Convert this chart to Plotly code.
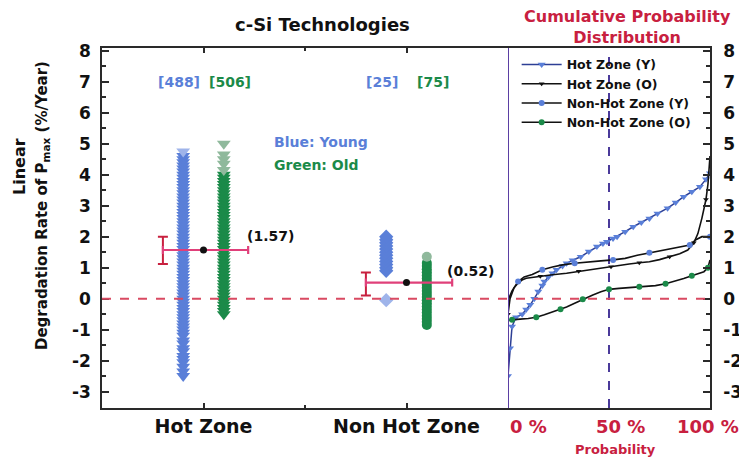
import plotly.graph_objects as go

# ---------------- data ----------------
categories = ["Hot Zone", "Non Hot Zone"]
cat_pos = [1, 3]
counts_young = [488, 25]
counts_old = [506, 75]
mean_rates = [1.57, 0.52]
err_low = [1.12, 0.10]
err_high = [2.00, 0.84]

# strip values (%/year)
hz_young = [-2.5, -2.35, -2.2, -2.05, -1.95, -1.85, -1.7, -1.6, -1.45, -1.35, -1.2, -1.1,
            -1.0, -0.9, -0.8, -0.7, -0.6, -0.5, -0.4, -0.3, -0.2, -0.1, 0.0, 0.1, 0.2,
            0.3, 0.4, 0.5, 0.6, 0.7, 0.8, 0.9, 1.0, 1.1, 1.2, 1.3, 1.4, 1.5, 1.6, 1.7,
            1.8, 1.9, 2.0, 2.1, 2.2, 2.3, 2.4, 2.5, 2.6, 2.7, 2.8, 2.9, 3.0, 3.1, 3.2,
            3.3, 3.4, 3.5, 3.6, 3.7, 3.8, 3.9, 4.0, 4.1, 4.2, 4.3, 4.4, 4.5, 4.6, 4.75]
hz_old = [-0.5, -0.4, -0.3, -0.2, -0.1, 0.0, 0.1, 0.2, 0.3, 0.4, 0.5, 0.6, 0.7, 0.8,
          0.9, 1.0, 1.1, 1.2, 1.3, 1.4, 1.5, 1.6, 1.7, 1.8, 1.9, 2.0, 2.1, 2.2, 2.3, 2.4,
          2.5, 2.6, 2.7, 2.8, 2.9, 3.0, 3.1, 3.2, 3.3, 3.4, 3.5, 3.6, 3.7, 3.8, 3.9, 4.0,
          4.15, 4.35, 4.5, 4.65, 5.0]
nhz_young = [-0.05, 0.9, 1.0, 1.1, 1.2, 1.3, 1.4, 1.5, 1.6, 1.7, 1.8, 1.9, 2.0]
nhz_old = [-0.85, -0.75, -0.65, -0.55, -0.45, -0.35, -0.25, -0.15, -0.05, 0.05, 0.15,
           0.25, 0.35, 0.45, 0.55, 0.65, 0.75, 0.85, 0.95, 1.05, 1.15, 1.35]

# cumulative probability curves (probability %, rate %/year)
prob_hz_y = [0, 1, 2, 4, 7, 9, 11, 13, 15, 17, 18, 20, 22, 24, 27, 29, 32, 36, 40, 44,
             47, 49, 52, 54, 58, 62, 66, 70, 74, 79, 83, 87, 91, 95, 98, 100]
rate_hz_y = [-2.5, -1.6, -0.9, -0.6, -0.5, -0.35, -0.2, 0.0, 0.23, 0.42, 0.55, 0.7, 0.82,
             0.93, 1.05, 1.14, 1.24, 1.35, 1.52, 1.68, 1.78, 1.84, 1.94, 2.0, 2.16, 2.32,
             2.46, 2.59, 2.75, 2.92, 3.1, 3.29, 3.45, 3.61, 3.85, 4.05]
prob_hz_o = [0, 1, 3, 6, 9, 13, 16, 22, 29, 35, 41, 46, 51, 55, 60, 65, 70, 75, 80, 85,
             89, 92, 94, 96, 98, 99, 100]
rate_hz_o = [-0.5, 0.0, 0.35, 0.58, 0.66, 0.7, 0.72, 0.77, 0.82, 0.88, 0.93, 1.0, 1.03,
             1.07, 1.12, 1.16, 1.19, 1.26, 1.35, 1.45, 1.57, 1.8, 2.1, 2.6, 3.2, 3.7, 4.6]
prob_nhz_y = [0, 2, 5, 8, 12, 17, 22, 27, 33, 40, 46, 52, 58, 64, 70, 77, 84, 90, 93, 96, 100]
rate_nhz_y = [-0.05, 0.25, 0.55, 0.7, 0.78, 0.93, 1.02, 1.09, 1.14, 1.19, 1.22, 1.25, 1.3,
              1.4, 1.48, 1.57, 1.65, 1.73, 1.9, 2.0, 2.0]
prob_nhz_o = [0, 2, 6, 10, 14, 18, 22, 26, 29, 33, 37, 42, 46, 50, 55, 60, 65, 69, 73,
              78, 83, 87, 91, 95, 97, 99, 100]
rate_nhz_o = [-0.7, -0.68, -0.66, -0.64, -0.6, -0.52, -0.43, -0.34, -0.27, -0.15, -0.02,
              0.12, 0.22, 0.3, 0.33, 0.36, 0.38, 0.39, 0.42, 0.48, 0.57, 0.65, 0.74, 0.83,
              0.87, 1.0, 1.25]

y_ticks = [-3, -2, -1, 0, 1, 2, 3, 4, 5, 6, 7, 8]
y_tick_labels = ["-3", "-2", "-1", "0", "1", "2", "3", "4", "5", "6", "7", "8"]
prob_ticks = [0, 50, 100]
prob_labels = ["0 %", "50 %", "100 %"]

# ---------------- style ----------------
FONT = "DejaVu Sans, Liberation Sans, Arial"
BLUE = "#5a7fd8"
BLUE_LIGHT = "#9fb4ea"
GREEN = "#1b8a49"
GREEN_LIGHT = "#8fb99c"
CRIMSON = "#c8203f"
PINK = "#e0407a"
RED_DASH = "#d94a62"
PURPLE = "#5b3fa3"
AXIS = "#2a2a2a"
YR = [-3.53, 8.09]

fig = go.Figure()

# strips
fig.add_trace(go.Scatter(
    x=[cat_pos[0] - 0.2] * len(hz_young), y=hz_young, mode="markers", showlegend=False,
    marker=dict(symbol="triangle-down", size=12,
                color=[BLUE_LIGHT if v > 4.6 else BLUE for v in hz_young]),
    xaxis="x", yaxis="y"))
fig.add_trace(go.Scatter(
    x=[cat_pos[0] + 0.2] * len(hz_old), y=hz_old, mode="markers", showlegend=False,
    marker=dict(symbol="triangle-down", size=12,
                color=[GREEN_LIGHT if v > 4.1 else GREEN for v in hz_old]),
    xaxis="x", yaxis="y"))
fig.add_trace(go.Scatter(
    x=[cat_pos[1] - 0.2] * len(nhz_young), y=nhz_young, mode="markers", showlegend=False,
    marker=dict(symbol="diamond", size=11,
                color=[BLUE_LIGHT if v < 0.5 else BLUE for v in nhz_young]),
    xaxis="x", yaxis="y"))
fig.add_trace(go.Scatter(
    x=[cat_pos[1] + 0.2] * len(nhz_old), y=nhz_old, mode="markers", showlegend=False,
    marker=dict(symbol="circle", size=10,
                color=[GREEN_LIGHT if v > 1.3 else GREEN for v in nhz_old]),
    xaxis="x", yaxis="y"))

# vertical error bars (left of each group)
fig.add_trace(go.Scatter(
    x=[p - 0.4 for p in cat_pos], y=mean_rates, mode="markers", showlegend=False,
    marker=dict(size=1, color=CRIMSON, opacity=0),
    error_y=dict(type="data", symmetric=False,
                 array=[h - m for h, m in zip(err_high, mean_rates)],
                 arrayminus=[m - l for m, l in zip(mean_rates, err_low)],
                 color=CRIMSON, thickness=2, width=5),
    xaxis="x", yaxis="y"))
# horizontal bar through the mean + mean dot
fig.add_trace(go.Scatter(
    x=cat_pos, y=mean_rates, mode="markers", showlegend=False,
    marker=dict(size=7, color="#111111"),
    error_x=dict(type="data", symmetric=False, array=[0.44, 0.45], arrayminus=[0.4, 0.4],
                 color=PINK, thickness=2.2, width=4),
    xaxis="x", yaxis="y"))

# cumulative curves
fig.add_trace(go.Scatter(
    x=prob_hz_y, y=rate_hz_y, mode="lines+markers", name="Hot Zone (Y)",
    line=dict(color="#2d3f95", width=1.5),
    marker=dict(symbol="triangle-down", size=7, color=BLUE),
    xaxis="x2", yaxis="y2"))
fig.add_trace(go.Scatter(
    x=prob_hz_o, y=rate_hz_o, mode="lines+markers", name="Hot Zone (O)",
    line=dict(color="#111111", width=1.6),
    marker=dict(symbol="triangle-down", size=5, color="#111111", maxdisplayed=12),
    xaxis="x2", yaxis="y2"))
fig.add_trace(go.Scatter(
    x=prob_nhz_y, y=rate_nhz_y, mode="lines+markers", name="Non-Hot Zone (Y)",
    line=dict(color="#111111", width=1.6),
    marker=dict(symbol="circle", size=6, color=BLUE, maxdisplayed=9),
    xaxis="x2", yaxis="y2"))
fig.add_trace(go.Scatter(
    x=prob_nhz_o, y=rate_nhz_o, mode="lines+markers", name="Non-Hot Zone (O)",
    line=dict(color="#111111", width=1.6),
    marker=dict(symbol="circle", size=6, color=GREEN, maxdisplayed=9),
    xaxis="x2", yaxis="y2"))

# page body has an 8px margin; the figure is sized so the plot area lands at
# x 102..710, y 48..408 of the 747x459 window
split = (508 - 102) / 608

tickfont = dict(family=FONT, size=17, color="#111111", weight="bold")
fig.update_layout(
    width=739, height=451,
    margin=dict(l=94, r=37, t=40, b=51, autoexpand=False),
    paper_bgcolor="white", plot_bgcolor="white",
    font=dict(family=FONT, color="#111111"),
    xaxis=dict(domain=[0, split], range=[0, 4], tickvals=cat_pos, ticktext=categories,
               ticks="inside", ticklen=5, tickwidth=1.5, tickcolor=AXIS,
               minor=dict(tickvals=[2], ticks="inside", ticklen=3, tickcolor=AXIS),
               showline=True, linecolor=AXIS, linewidth=1.5, mirror="ticks",
               showgrid=False, zeroline=False, automargin=False,
               tickfont=dict(family=FONT, size=19, color="#111111", weight="bold"),
               anchor="y"),
    yaxis=dict(domain=[0, 1], range=YR, tickvals=y_ticks, ticktext=y_tick_labels,
               ticks="inside", ticklen=7, tickwidth=1.5, tickcolor=AXIS,
               minor=dict(tick0=0, dtick=0.5, ticks="inside", ticklen=4, tickcolor=AXIS),
               showline=True, linecolor=AXIS, linewidth=1.5, mirror=False,
               showgrid=False, zeroline=False, tickfont=tickfont, ticklabelstandoff=6,
               automargin=False, anchor="x"),
    xaxis2=dict(domain=[split, 1], range=[0, 100], showticklabels=False, ticks="",
                showline=True, linecolor=AXIS, linewidth=1.5, mirror=True,
                showgrid=False, zeroline=False, automargin=False, anchor="y2"),
    yaxis2=dict(domain=[0, 1], range=YR, tickvals=y_ticks, ticktext=y_tick_labels,
                side="right", ticks="inside", ticklen=7, tickwidth=1.5, tickcolor=AXIS,
                minor=dict(tick0=0, dtick=0.5, ticks="inside", ticklen=4, tickcolor=AXIS),
                showline=True, linecolor=AXIS, linewidth=1.5, mirror=False,
                showgrid=False, zeroline=False, tickfont=tickfont, ticklabelstandoff=8,
                automargin=False, anchor="x2"),
    legend=dict(x=0.682, y=0.995, xanchor="left", yanchor="top", bgcolor="rgba(0,0,0,0)",
                font=dict(family=FONT, size=12.5, color="#111111", weight="bold"),
                itemwidth=40, tracegroupgap=0),
    showlegend=True,
)

# reference lines
fig.add_shape(type="line", xref="paper", x0=0, x1=1, yref="y", y0=0, y1=0,
              line=dict(color=RED_DASH, width=2, dash="dash"), layer="above")
fig.add_shape(type="line", xref="x2", x0=50, x1=50, yref="paper", y0=0, y1=1,
              line=dict(color="#4a3a9a", width=2, dash="dash"), layer="below")
fig.add_shape(type="line", xref="x2", x0=0, x1=0, yref="paper", y0=0, y1=1,
              line=dict(color=PURPLE, width=2), layer="above")

# annotations
def ann(**kw):
    base = dict(showarrow=False, font=dict(family=FONT, size=13, color="#111111", weight="bold"))
    base.update(kw)
    fig.add_annotation(**base)

ann(text="c-Si Technologies", xref="paper", yref="paper", x=0.362, y=1.064,
    xanchor="center", yanchor="middle",
    font=dict(family=FONT, size=18, color="#111111", weight="bold"))
ann(text="Cumulative Probability<br>Distribution", xref="paper", yref="paper",
    x=0.8635, y=1.057, xanchor="center", yanchor="middle",
    font=dict(family=FONT, size=16, color=CRIMSON, weight="bold"))

for i, p in enumerate(cat_pos):
    ann(text=f"[{counts_young[i]}]", xref="x", yref="y", x=p - 0.24, y=7.0,
        font=dict(family=FONT, size=14, color=BLUE, weight="bold"))
    ann(text=f"[{counts_old[i]}]", xref="x", yref="y", x=p + 0.26, y=7.0,
        font=dict(family=FONT, size=14, color=GREEN, weight="bold"))

ann(text="(%.2f)" % mean_rates[0], xref="x", yref="y", x=1.66, y=2.02,
    font=dict(family=FONT, size=14, color="#111111", weight="bold"))
ann(text="(%.2f)" % mean_rates[1], xref="x", yref="y", x=3.63, y=0.89,
    font=dict(family=FONT, size=14, color="#111111", weight="bold"))

ann(text="Blue: Young", xref="x", yref="y", x=1.67, y=5.07, xanchor="left",
    font=dict(family=FONT, size=14, color=BLUE, weight="bold"))
ann(text="Green: Old", xref="x", yref="y", x=1.67, y=4.31, xanchor="left",
    font=dict(family=FONT, size=14, color=GREEN, weight="bold"))

for p, lab, sh in zip(prob_ticks, prob_labels, [20, 11, -2]):
    ann(text=lab, xref="x2", yref="paper", x=p, y=-0.05, xshift=sh,
        xanchor="center", yanchor="middle",
        font=dict(family=FONT, size=18, color=CRIMSON, weight="bold"))
ann(text="Probability", xref="paper", yref="paper", x=0.845, y=-0.114,
    xanchor="center", yanchor="middle",
    font=dict(family=FONT, size=13, color=CRIMSON, weight="bold"))

ann(text="Linear", xref="paper", yref="paper", x=(20 - 102) / 608, y=1 - (167 - 48) / 360,
    xanchor="center", yanchor="middle", textangle=-90,
    font=dict(family=FONT, size=16, color="#111111", weight="bold"))
ann(text="Degradation Rate of P<sub>max</sub> (%/Year)", xref="paper", yref="paper",
    x=(42 - 102) / 608, y=1 - (206 - 48) / 360,
    xanchor="center", yanchor="middle", textangle=-90,
    font=dict(family=FONT, size=15, color="#111111", weight="bold"))

fig.write_html("out.html")
